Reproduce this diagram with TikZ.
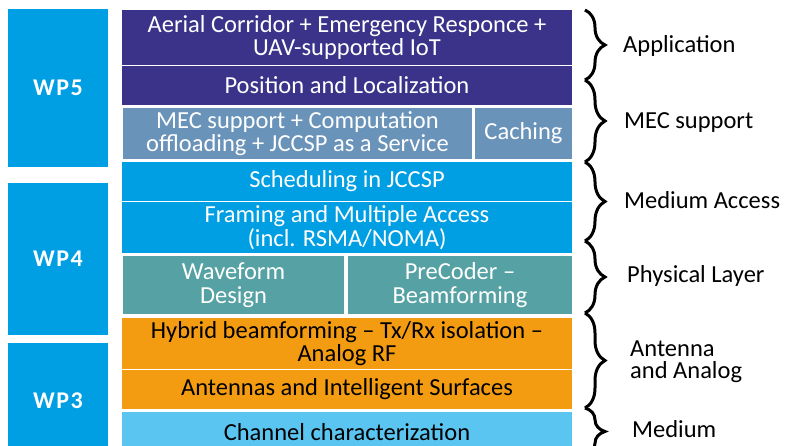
\documentclass[tikz,border=0pt]{standalone}
\usepackage{fontspec}
\setmainfont{Carlito}
\usetikzlibrary{decorations.pathreplacing}
\definecolor{cpurple}{HTML}{3B3389}
\definecolor{cmec}{HTML}{6A93BA}
\definecolor{cblue}{HTML}{009EE2}
\definecolor{cteal}{HTML}{56A1A3}
\definecolor{corange}{HTML}{F39C12}
\definecolor{clight}{HTML}{5BC5F2}
\tikzset{
  layer/.style={inner sep=0pt, align=center, font=\fontsize{24.5}{23.5}\selectfont},
  wlayer/.style={layer, text=white},
  blayer/.style={layer, text=black},
  wpbox/.style={fill=cblue, text=white, inner sep=0pt, font=\fontsize{24}{24}\selectfont\bfseries\addfontfeature{LetterSpace=6}},
  lbl/.style={anchor=base west, inner sep=0pt, font=\fontsize{24.5}{21}\selectfont},
  bracestyle/.style={decorate, decoration={brace, amplitude=20pt}, line width=3pt, draw=black}
}
\begin{document}
\begin{tikzpicture}[x=1pt,y=-1pt]
\clip (0,0) rectangle (794,446);
\fill[white] (0,0) rectangle (794,446);
% WP boxes
\node[wpbox, minimum width=100pt, minimum height=158pt] (wp5) at (58,88) {WP5};
\node[wpbox, minimum width=100pt, minimum height=152pt] (wp4) at (58,259) {WP4};
\node[wpbox, minimum width=100pt, minimum height=116pt] (wp3) at (58,401) {WP3};
% layers
\node[wlayer, fill=cpurple, minimum width=450pt, minimum height=55pt] (aer) at (347,37.5) {Aerial Corridor + Emergency Responce +\\UAV-supported IoT};
\node[wlayer, fill=cpurple, minimum width=450pt, minimum height=39pt] (pos) at (347,85.5) {Position and Localization};
\node[wlayer, fill=cmec, minimum width=349pt, minimum height=51pt] (mec) at (297.5,133.5) {MEC support + Computation\\offloading + JCCSP as a Service};
\node[wlayer, fill=cmec, minimum width=97pt, minimum height=51pt] (cach) at (523.5,133.5) {Caching};
\node[wlayer, fill=cblue, minimum width=450pt, minimum height=39pt] (sch) at (347,181.5) {Scheduling in JCCSP};
\node[wlayer, fill=cblue, minimum width=450pt, minimum height=51pt] (fra) at (347,227.5) {Framing and Multiple Access\\(incl. RSMA/NOMA)};
\node[wlayer, fill=cteal, minimum width=221pt, minimum height=58pt] (wav) at (233.5,285) {Waveform\\Design};
\node[wlayer, fill=cteal, minimum width=224pt, minimum height=58pt] (pre) at (460,285) {PreCoder –\\Beamforming};
\node[blayer, fill=corange, minimum width=450pt, minimum height=51pt] (hyb) at (347,343.5) {Hybrid beamforming – Tx/Rx isolation –\\Analog RF};
\node[blayer, fill=corange, minimum width=450pt, minimum height=39pt] (ant) at (347,389.5) {Antennas and Intelligent Surfaces};
\node[blayer, fill=clight, minimum width=450pt, minimum height=40pt] (cha) at (347,432) {Channel characterization};
% braces
\coordinate (b0) at (585,10);
\coordinate (b1) at (585,80);
\coordinate (b2) at (585,162);
\coordinate (b3) at (585,241);
\coordinate (b4) at (585,313);
\coordinate (b5) at (585,408);
\coordinate (b6) at (585,455);
\draw[bracestyle] (b0) -- (b1);
\draw[bracestyle] (b1) -- (b2);
\draw[bracestyle] (b2) -- (b3);
\draw[bracestyle] (b3) -- (b4);
\draw[bracestyle] (b4) -- (b5);
\draw[bracestyle] (b5) -- (b6);
% labels
\node[lbl] (l1) at (623,53) {Application};
\node[lbl] (l2) at (624,128.5) {MEC support};
\node[lbl] (l3) at (624,208.5) {Medium Access};
\node[lbl] (l4) at (627,282) {Physical Layer};
\node[lbl] (l5a) at (630,356) {Antenna};
\node[lbl] (l5b) at (630,378.5) {and Analog};
\node[lbl] (l6) at (632,437) {Medium};
\end{tikzpicture}
\end{document}
